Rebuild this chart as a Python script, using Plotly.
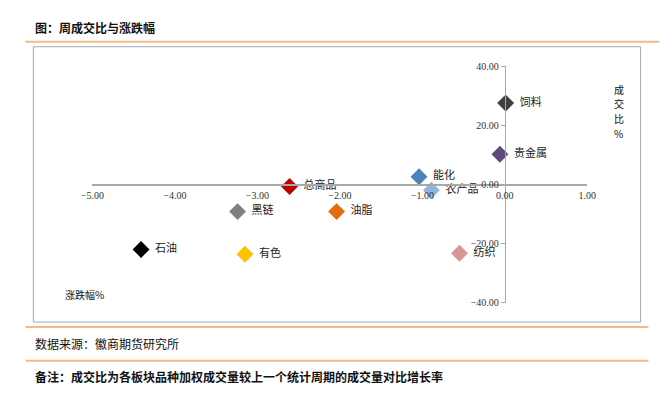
import plotly.graph_objects as go

W, H = 668, 394

categories = ["饲料", "贵金属", "能化", "农产品", "总商品", "黑链", "油脂", "石油", "有色", "纺织"]
change_pct = [0.01, -0.06, -1.04, -0.89, -2.61, -3.24, -2.04, -4.41, -3.15, -0.55]
volume_ratio = [27.5, 10.2, 2.6, -2.0, -0.7, -9.2, -9.2, -22.0, -23.6, -23.3]
colors = ["#404040", "#604A7B", "#4F81BD", "#8DB4E2", "#C00000", "#808080", "#E46C0A", "#000000", "#FFC000", "#D99694"]
x_ticks = [-5, -4, -3, -2, -1, 0, 1]
y_ticks = [-40, -20, 0, 20, 40]
y_title_chars = ["成", "交", "比", "%"]

fig = go.Figure()
for name, xv, yv, c in zip(categories, change_pct, volume_ratio, colors):
    fig.add_trace(go.Scatter(
        x=[xv], y=[yv], mode="markers+text", text=["  " + name],
        textposition="middle right",
        textfont=dict(family="Noto Sans CJK SC", size=11, color="#222"),
        marker=dict(symbol="diamond", size=13, color=c),
        showlegend=False, cliponaxis=False, hoverinfo="skip",
    ))

px = lambda p: p / W
py = lambda p: 1 - p / H

x0p, x1p = 83, 594
y0p, y1p = 62, 306
zero_x = x0p + (0 - (-5)) / 6 * (x1p - x0p)
zero_y = y0p + (40 - 0) / 80 * (y1p - y0p)

tickfont = dict(family="Liberation Serif", size=10, color="#333")
fig.update_layout(
    width=W, height=H, margin=dict(l=0, r=0, t=0, b=0),
    paper_bgcolor="white", plot_bgcolor="white",
    xaxis=dict(domain=[px(x0p), px(x1p)], range=[-5, 1], tickvals=x_ticks,
               tickformat=".2f", showgrid=False, zeroline=False,
               showline=True, linecolor="#A8A8A8", linewidth=1.5,
               anchor="free", position=py(zero_y), ticks="", tickfont=tickfont,
               ticklabelstandoff=1),
    yaxis=dict(domain=[py(y1p), py(y0p)], range=[-40, 40], tickvals=y_ticks,
               tickformat=".2f", showgrid=False, zeroline=False,
               showline=True, linecolor="#A8A8A8", linewidth=1.5,
               anchor="free", position=px(zero_x), ticks="outside", ticklen=4,
               tickcolor="#A8A8A8", tickfont=tickfont),
    font=dict(family="Noto Sans CJK SC"),
)

orange = "#F2B98A"
shapes = [
    dict(type="line", xref="paper", yref="paper", x0=px(14), x1=1, y0=py(37), y1=py(37),
         line=dict(color=orange, width=2)),
    dict(type="rect", xref="paper", yref="paper", x0=px(22), x1=px(649), y0=py(42), y1=py(326),
         line=dict(color="#A8A8A8", width=1)),
    dict(type="line", xref="paper", yref="paper", x0=px(14), x1=px(657), y0=py(331), y1=py(331),
         line=dict(color=orange, width=2)),
    dict(type="line", xref="paper", yref="paper", x0=px(14), x1=px(657), y0=py(366), y1=py(366),
         line=dict(color=orange, width=2)),
]
fig.update_layout(shapes=shapes)

ann = [
    dict(text="<b>图：周成交比与涨跌幅</b>", x=px(22), y=py(22), size=12),
    dict(text="数据来源：徽商期货研究所", x=px(22), y=py(348), size=12),
    dict(text="<b>备注：成交比为各板块品种加权成交量较上一个统计周期的成交量对比增长率</b>", x=px(22), y=py(382), size=12),
    dict(text="涨跌幅%", x=px(53), y=py(298), size=10),
]
for i, ch in enumerate(y_title_chars):
    ann.append(dict(text=ch, x=px(619), y=py(86 + 15 * i), size=10))
for a in ann:
    fig.add_annotation(text=a["text"], x=a["x"], y=a["y"], xref="paper", yref="paper",
                       xanchor="left", yanchor="middle", showarrow=False,
                       font=dict(family="Noto Sans CJK SC", size=a["size"], color="#111"))

fig.write_html("out.html", post_script="document.body.style.margin='0';",
               config={"displayModeBar": False, "staticPlot": True})
